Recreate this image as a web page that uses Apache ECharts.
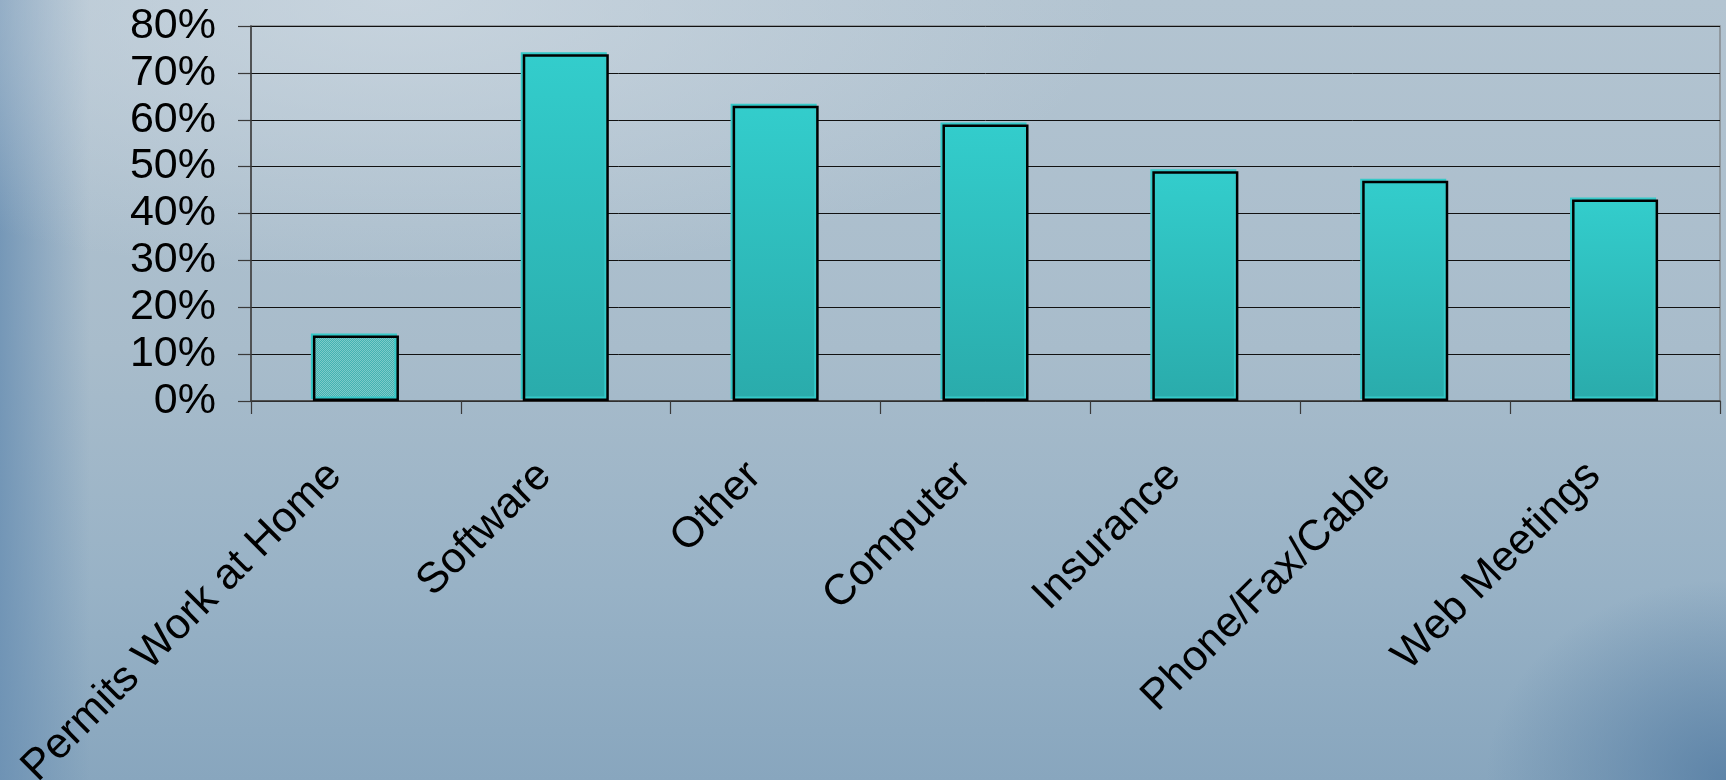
<!DOCTYPE html>
<html>
<head>
<meta charset="utf-8">
<title>Bar chart</title>
<script src="https://cdn.jsdelivr.net/npm/echarts@6/dist/echarts.min.js"></script>
<style>
  html, body { margin: 0; padding: 0; }
  #chart {
    width: 1726px;
    height: 780px;
    background:
      radial-gradient(ellipse 240px 200px at 100% 100%, rgba(86,126,164,0.85), rgba(86,126,164,0) 100%),
      radial-gradient(ellipse 720px 280px at 400px 0px, rgba(206,217,226,0.75), rgba(206,217,226,0) 100%),
      linear-gradient(to right, rgba(104,142,178,0.8) 0px, rgba(104,142,178,0) 90px),
      linear-gradient(to bottom, #b3c4d1 0%, #a8bccb 45%, #98b2c6 75%, #88a6be 100%);
  }
</style>
</head>
<body>
<div id="chart"></div>
<script>
  // Categories and percentages
  const categories = ['Permits Work at Home', 'Software', 'Other', 'Computer', 'Insurance', 'Phone/Fax/Cable', 'Web Meetings'];
  const values = [14, 74, 63, 59, 49, 47, 43];
  const yTicks = { min: 0, max: 80, step: 10 };

  // Dotted fill for the first bar
  function dotPattern() {
    const c = document.createElement('canvas');
    c.width = 2; c.height = 2;
    const g = c.getContext('2d');
    g.fillStyle = '#44b2b2'; g.fillRect(0, 0, 2, 2);
    g.fillStyle = '#7ccbc9'; g.fillRect(0, 0, 1, 1); g.fillRect(1, 1, 1, 1);
    return c;
  }

  const tealGradient = {
    type: 'linear', x: 0, y: 0, x2: 0, y2: 1,
    colorStops: [{ offset: 0, color: '#33cdcc' }, { offset: 1, color: '#2aabab' }]
  };

  const fontFamily = '"Liberation Sans", Arial, sans-serif';

  const barData = values.map((v, i) => ({
    value: v,
    itemStyle: i === 0 ? { color: { image: dotPattern(), repeat: 'repeat' } } : { color: tealGradient }
  }));

  const chart = echarts.init(document.getElementById('chart'));
  chart.setOption({
    animation: false,
    grid: {
      left: 251, right: 6, top: 26, bottom: 379,
      containLabel: false, outerBoundsMode: 'none',
      show: true, borderColor: '#858a8e', borderWidth: 1.5, backgroundColor: 'transparent'
    },
    xAxis: {
      type: 'category',
      data: categories,
      boundaryGap: true,
      axisLine: { lineStyle: { color: '#3a3a3a', width: 1.5 } },
      axisTick: { show: true, length: 13, lineStyle: { color: '#3a3a3a', width: 1.2 } },
      axisLabel: {
        interval: 0, rotate: 45, margin: 47, padding: [0, 30, 0, 0],
        color: '#000', fontSize: 43, fontFamily: fontFamily
      }
    },
    yAxis: {
      type: 'value',
      min: yTicks.min, max: yTicks.max, interval: yTicks.step,
      axisLine: { show: true, lineStyle: { color: '#3a3a3a', width: 1.5 } },
      axisTick: { show: true, length: 13, lineStyle: { color: '#3a3a3a', width: 1.2 } },
      axisLabel: {
        formatter: '{value}%', margin: 35,
        color: '#000', fontSize: 43, fontFamily: fontFamily
      },
      splitLine: { show: true, lineStyle: { color: '#111', width: 1 } }
    },
    series: [{
      type: 'bar',
      data: barData,
      barWidth: '41%',
      itemStyle: {
        borderColor: '#000', borderWidth: 2.5,
        shadowColor: '#35c9c8', shadowOffsetX: -2, shadowOffsetY: -2, shadowBlur: 0
      }
    }]
  });
</script>
</body>
</html>
